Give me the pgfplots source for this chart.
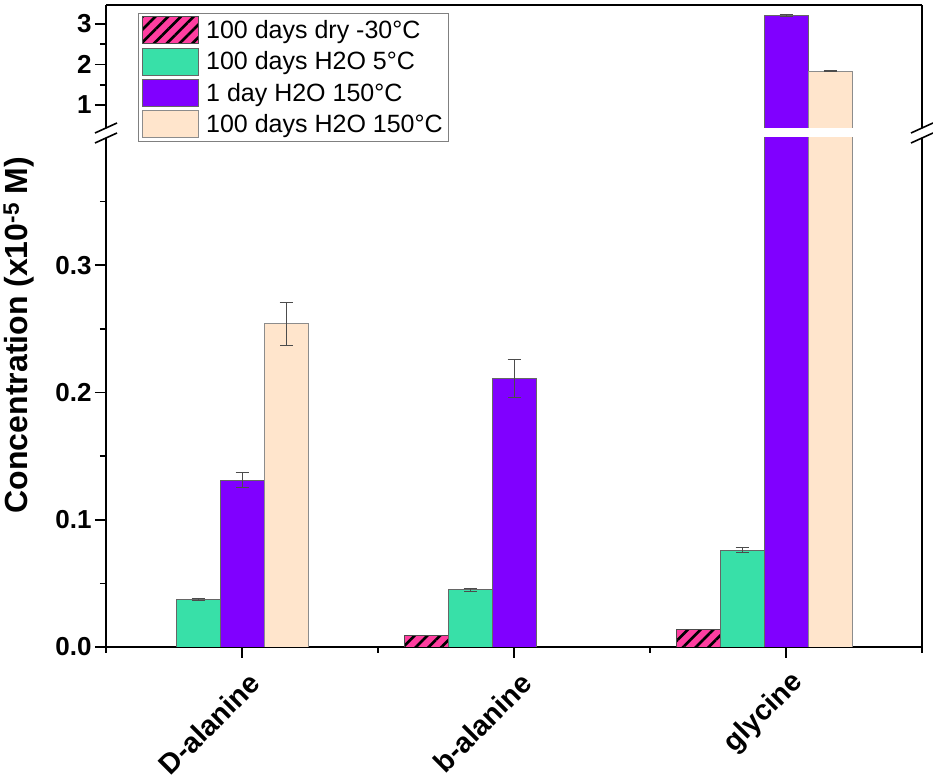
\documentclass[border=0pt]{standalone}
\usepackage{fontspec}
\setmainfont{Liberation Sans}
\usepackage{pgfplots}
\pgfplotsset{compat=1.18}
\usetikzlibrary{patterns.meta}

\definecolor{cpink}{HTML}{FF3EA0}
\definecolor{cgreen}{HTML}{38E0A8}
\definecolor{cpurple}{HTML}{8000FF}
\definecolor{cpeach}{HTML}{FFE5CC}

\pgfplotsset{
  common/.style={
    scale only axis, width=816pt,
    xmin=-0.5, xmax=2.5,
    ybar, bar width=44pt,
    tick align=outside,
    major tick length=11pt, minor tick length=6pt,
    every tick/.style={black, line width=1.6pt},
    axis line style={line width=1.6pt},
    /pgf/number format/assume math mode=true,
    tick label style={font=\fontsize{26}{31}\selectfont\bfseries},
  },
  errs/.style={
    /pgfplots/error bars/y dir=both, /pgfplots/error bars/y explicit,
    /pgfplots/error bars/error bar style={line width=0.9pt, black!70},
    /pgfplots/error bars/error mark options={rotate=90, mark size=6.5pt, line width=0.9pt, black!70},
  },
  pinkbar/.style={fill=cpink, draw=black!70, line width=0.8pt,
    postaction={pattern={Lines[angle=45,distance=9pt,line width=2.6pt]}, pattern color=black}},
  greenbar/.style={fill=cgreen, draw=black!60, line width=0.8pt},
  purplebar/.style={fill=cpurple, draw=black!60, line width=0.8pt},
  peachbar/.style={fill=cpeach, draw=black!45, line width=0.8pt},
  swatch/.style={legend image code/.code={\draw[##1] (0pt,-13.5pt) rectangle (56pt,13.5pt);}},
}

\begin{document}
\begin{tikzpicture}
% lower axis
\begin{axis}[common, at={(0pt,0pt)}, anchor=south west, height=509pt,
  ymin=0, ymax=0.4,
  axis x line*=bottom, axis y line*=box, ytick pos=left,
  xtick={0,1,2}, xticklabels={D-alanine,b-alanine,glycine},
  minor xtick={-0.5,0.5,1.5,2.5},
  ytick={0,0.1,0.2,0.3}, minor ytick={0.05,0.15,0.25,0.35},
  yticklabel style={/pgf/number format/.cd, fixed, fixed zerofill, precision=1},
  xticklabel style={xshift=15pt, yshift=-18pt, rotate=45, anchor=east, font=\fontsize{28.5}{33}\selectfont\bfseries},
]
\addplot[pinkbar, bar shift=-88pt] coordinates {(1,0.0092) (2,0.0135)};
\addplot[greenbar, bar shift=-44pt, errs] coordinates {(0,0.0376) +- (0,0.0008) (1,0.0450) +- (0,0.0012) (2,0.0762) +- (0,0.0022)};
\addplot[purplebar, bar shift=0pt, errs] coordinates {(0,0.131) +- (0,0.006) (1,0.211) +- (0,0.015) (2,3.21) +- (0,0.03)};
\addplot[peachbar, bar shift=44pt, errs] coordinates {(0,0.254) +- (0,0.017) (2,1.84) +- (0,0.01)};
\end{axis}
% upper axis
\begin{axis}[common, at={(0pt,519pt)}, anchor=south west, height=123pt,
  ymin=0.432, ymax=3.47,
  axis x line*=top, axis y line*=box, ytick pos=left,
  xtick=\empty,
  ytick={1,2,3}, minor ytick={1.5,2.5},
  legend style={at={(0.0392,0.935)}, anchor=north west, draw=black!50, line width=0.8pt,
    fill=white, font=\fontsize{25}{30}\selectfont, inner xsep=4pt, inner ysep=3pt,
    row sep=3.5pt, column sep=5pt, cells={anchor=west}},
]
\addlegendimage{swatch, pinkbar}
\addlegendentry{100 days dry -30°C}
\addlegendimage{swatch, greenbar}
\addlegendentry{100 days H2O 5°C}
\addlegendimage{swatch, purplebar}
\addlegendentry{1 day H2O 150°C}
\addlegendimage{swatch, peachbar}
\addlegendentry{100 days H2O 150°C}
\addplot[purplebar, bar shift=0pt, errs, forget plot] coordinates {(2,3.21) +- (0,0.03)};
\addplot[peachbar, bar shift=44pt, errs, forget plot] coordinates {(2,1.84) +- (0,0.01)};
\end{axis}
% y label
\node[rotate=90, font=\fontsize{32}{38}\selectfont\bfseries] at (-87pt,312pt) {Concentration (x10\textsuperscript{-5} M)};
% break marks
\foreach \xx in {0,816}{
  \draw[line width=1.6pt] (\xx pt-11pt,514pt) -- (\xx pt+11pt,524pt);
  \draw[line width=1.6pt] (\xx pt-11pt,504pt) -- (\xx pt+11pt,514pt);
}
\pgfresetboundingbox
\path[use as bounding box] (-106pt,-136pt) rectangle (827pt,647pt);
\end{tikzpicture}
\end{document}
